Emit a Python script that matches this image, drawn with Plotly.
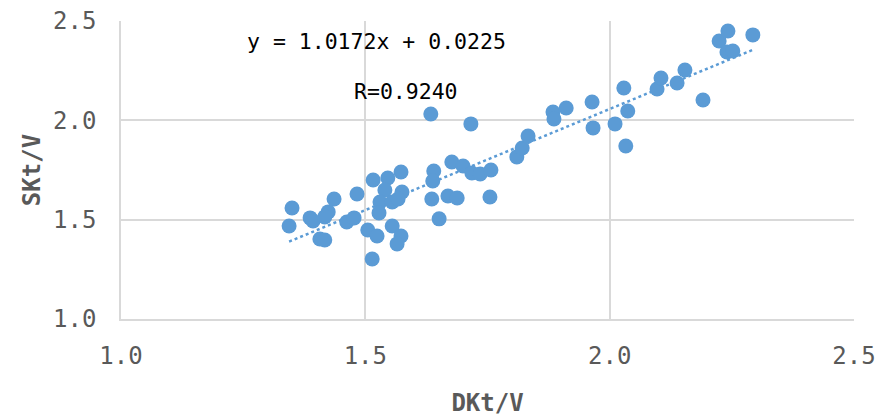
import plotly.graph_objects as go

# DKt/V (x) and SKt/V (y) measurements
dkt_v = [1.344, 1.350, 1.387, 1.393, 1.407, 1.417, 1.436, 1.424, 1.417, 1.462,
         1.477, 1.483, 1.505, 1.524, 1.514, 1.516, 1.546, 1.573, 1.540, 1.575,
         1.530, 1.555, 1.567, 1.528, 1.555, 1.573, 1.565, 1.634, 1.716, 1.636,
         1.651, 1.669, 1.688, 1.755, 1.640, 1.638, 1.677, 1.700, 1.718, 1.735,
         1.757, 1.810, 1.821, 1.833, 1.884, 1.886, 1.911, 1.964, 1.966, 2.011,
         2.029, 2.037, 2.033, 2.097, 2.105, 2.138, 2.154, 2.191, 2.224, 2.242,
         2.293, 2.240, 2.252]
skt_v = [1.468, 1.559, 1.509, 1.493, 1.403, 1.398, 1.604, 1.539, 1.514, 1.488,
         1.509, 1.629, 1.448, 1.418, 1.302, 1.700, 1.710, 1.740, 1.649, 1.639,
         1.589, 1.589, 1.604, 1.534, 1.468, 1.418, 1.378, 2.032, 1.982, 1.604,
         1.504, 1.619, 1.609, 1.614, 1.745, 1.695, 1.790, 1.770, 1.735, 1.730,
         1.750, 1.816, 1.861, 1.921, 2.042, 2.007, 2.062, 2.092, 1.962, 1.982,
         2.163, 2.047, 1.871, 2.158, 2.213, 2.188, 2.253, 2.102, 2.399, 2.450,
         2.430, 2.344, 2.349]

# Linear fit coefficients and correlation
slope = 1.0172
intercept = 0.0225
r_value = 0.9240

tick_vals = [1.0, 1.5, 2.0, 2.5]
tick_text = ["1.0", "1.5", "2.0", "2.5"]

blue = "#5B9BD5"
grid = "#D9D9D9"
label_gray = "#595959"
mono = "DejaVu Sans Mono"

x_lo, x_hi = min(dkt_v), max(dkt_v)
fit_x = [x_lo, x_hi]
fit_y = [slope * v + intercept for v in fit_x]

fig = go.Figure()
fig.add_trace(go.Scatter(
    x=fit_x, y=fit_y, mode="lines",
    line=dict(color=blue, width=2.5, dash="dot"),
    hoverinfo="skip", showlegend=False,
))
fig.add_trace(go.Scatter(
    x=dkt_v, y=skt_v, mode="markers",
    marker=dict(color=blue, size=15, line=dict(width=0)),
    showlegend=False,
))

fig.add_annotation(
    x=1.522, y=2.395, xref="x", yref="y", showarrow=False,
    text=f"y = {slope:.4f}x + {intercept:.4f}",
    font=dict(family=mono, size=21.5, color="#000000"),
)
fig.add_annotation(
    x=1.583, y=2.143, xref="x", yref="y", showarrow=False,
    text=f"R={r_value:.4f}",
    font=dict(family=mono, size=21.5, color="#000000"),
)

fig.update_layout(
    width=875, height=417,
    margin=dict(l=121, r=21, t=21, b=98),
    paper_bgcolor="white", plot_bgcolor="white",
    font=dict(family=mono, color=label_gray),
)
fig.update_xaxes(
    range=[1.0, 2.5], tickvals=tick_vals, ticktext=tick_text,
    showgrid=True, gridcolor=grid, gridwidth=1.5,
    showline=True, linecolor=grid, linewidth=1.5,
    zeroline=False, ticks="", ticklabelstandoff=14,
    ticklabeloverflow="allow", automargin=False,
    tickfont=dict(family=mono, size=24, color=label_gray),
    title=dict(text="<b>DKt/V</b>", standoff=34,
               font=dict(family=mono, size=24, color=label_gray)),
)
fig.update_yaxes(
    range=[1.0, 2.5], tickvals=tick_vals, ticktext=tick_text,
    showgrid=True, gridcolor=grid, gridwidth=1.5,
    showline=True, linecolor=grid, linewidth=1.5,
    zeroline=False, ticks="", ticklabelstandoff=18,
    ticklabeloverflow="allow", automargin=False,
    tickfont=dict(family=mono, size=24, color=label_gray),
    title=dict(text="<b>SKt/V</b>", standoff=6,
               font=dict(family=mono, size=24, color=label_gray)),
)

fig.write_html("out.html")
